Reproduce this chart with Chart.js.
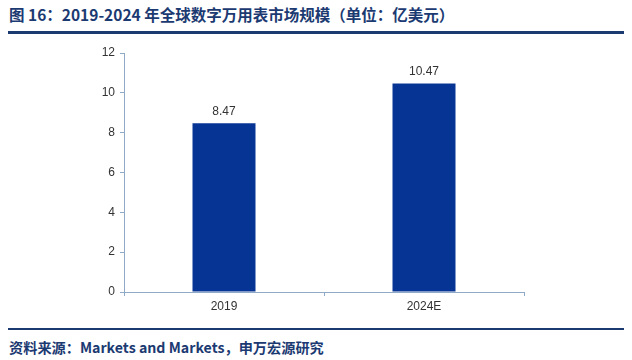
<!DOCTYPE html>
<html lang="zh">
<head>
    <meta charset="UTF-8">
    <title>2019-2024 年全球数字万用表市场规模</title>
    <script src="https://cdn.jsdelivr.net/npm/chart.js"></script>
    <style>
        body {
            margin: 0;
            width: 632px;
            height: 360px;
            background: #fff;
            font-family: "Noto Sans CJK SC", "Noto Sans", Arial, sans-serif;
            position: relative;
            overflow: hidden;
        }
        .title {
            position: absolute;
            left: 9px;
            top: 3px;
            font-size: 15.5px;
            font-weight: bold;
            color: #1c3a72;
            white-space: nowrap;
        }
        .rule {
            position: absolute;
            left: 8px;
            width: 616px;
            background: #1c3a72;
        }
        .footer {
            position: absolute;
            left: 9px;
            top: 337px;
            font-size: 14.2px;
            font-weight: bold;
            color: #1c3a72;
            white-space: nowrap;
        }
        .chart-box {
            position: absolute;
            left: 0;
            top: 40px;
            width: 632px;
            height: 280px;
        }
    </style>
</head>
<body>
    <div class="title">图 16：2019-2024 年全球数字万用表市场规模（单位：亿美元）</div>
    <div class="rule" style="top:31px;height:3px;"></div>
    <div class="chart-box"><canvas id="marketChart"></canvas></div>
    <div class="rule" style="top:328px;height:2px;"></div>
    <div class="footer">资料来源：Markets and Markets，申万宏源研究</div>

    <script>
        const years = ['2019', '2024E'];
        const marketSize = [8.47, 10.47];
        const yMax = 12;
        const yStep = 2;

        const axisColor = '#8fa9c6';
        const barColor = '#063494';

        // draw the value above each bar
        const valueLabels = {
            id: 'valueLabels',
            afterDatasetsDraw(chart) {
                const ctx = chart.ctx;
                const meta = chart.getDatasetMeta(0);
                ctx.save();
                ctx.font = '12px Arial, "Liberation Sans", sans-serif';
                ctx.fillStyle = '#333';
                ctx.textAlign = 'center';
                ctx.textBaseline = 'bottom';
                meta.data.forEach((bar, i) => {
                    ctx.fillText(marketSize[i].toFixed(2), bar.x, bar.y - 6);
                });
                ctx.restore();
            }
        };

        new Chart(document.getElementById('marketChart'), {
            type: 'bar',
            data: {
                labels: years,
                datasets: [{
                    data: marketSize,
                    backgroundColor: barColor,
                    categoryPercentage: 1,
                    barPercentage: 0.315
                }]
            },
            options: {
                responsive: true,
                maintainAspectRatio: false,
                animation: false,
                layout: { padding: { top: 13, right: 108, left: 0, bottom: 0 } },
                plugins: {
                    legend: { display: false },
                    tooltip: { enabled: false }
                },
                scales: {
                    x: {
                        afterFit(scale) { scale.height = 28; },
                        grid: {
                            drawOnChartArea: false,
                            drawTicks: true,
                            tickLength: 4,
                            color: axisColor
                        },
                        border: { color: axisColor, width: 1 },
                        ticks: {
                            color: '#333',
                            font: { family: 'Arial, "Liberation Sans", sans-serif', size: 12 },
                            padding: 3
                        }
                    },
                    y: {
                        min: 0,
                        max: yMax,
                        afterFit(scale) { scale.width = 124; },
                        grid: {
                            drawOnChartArea: false,
                            drawTicks: true,
                            tickLength: 4,
                            color: axisColor
                        },
                        border: { color: axisColor, width: 1 },
                        ticks: {
                            stepSize: yStep,
                            color: '#333',
                            font: { family: 'Arial, "Liberation Sans", sans-serif', size: 12 },
                            padding: 5
                        }
                    }
                }
            },
            plugins: [valueLabels]
        });
    </script>
</body>
</html>
